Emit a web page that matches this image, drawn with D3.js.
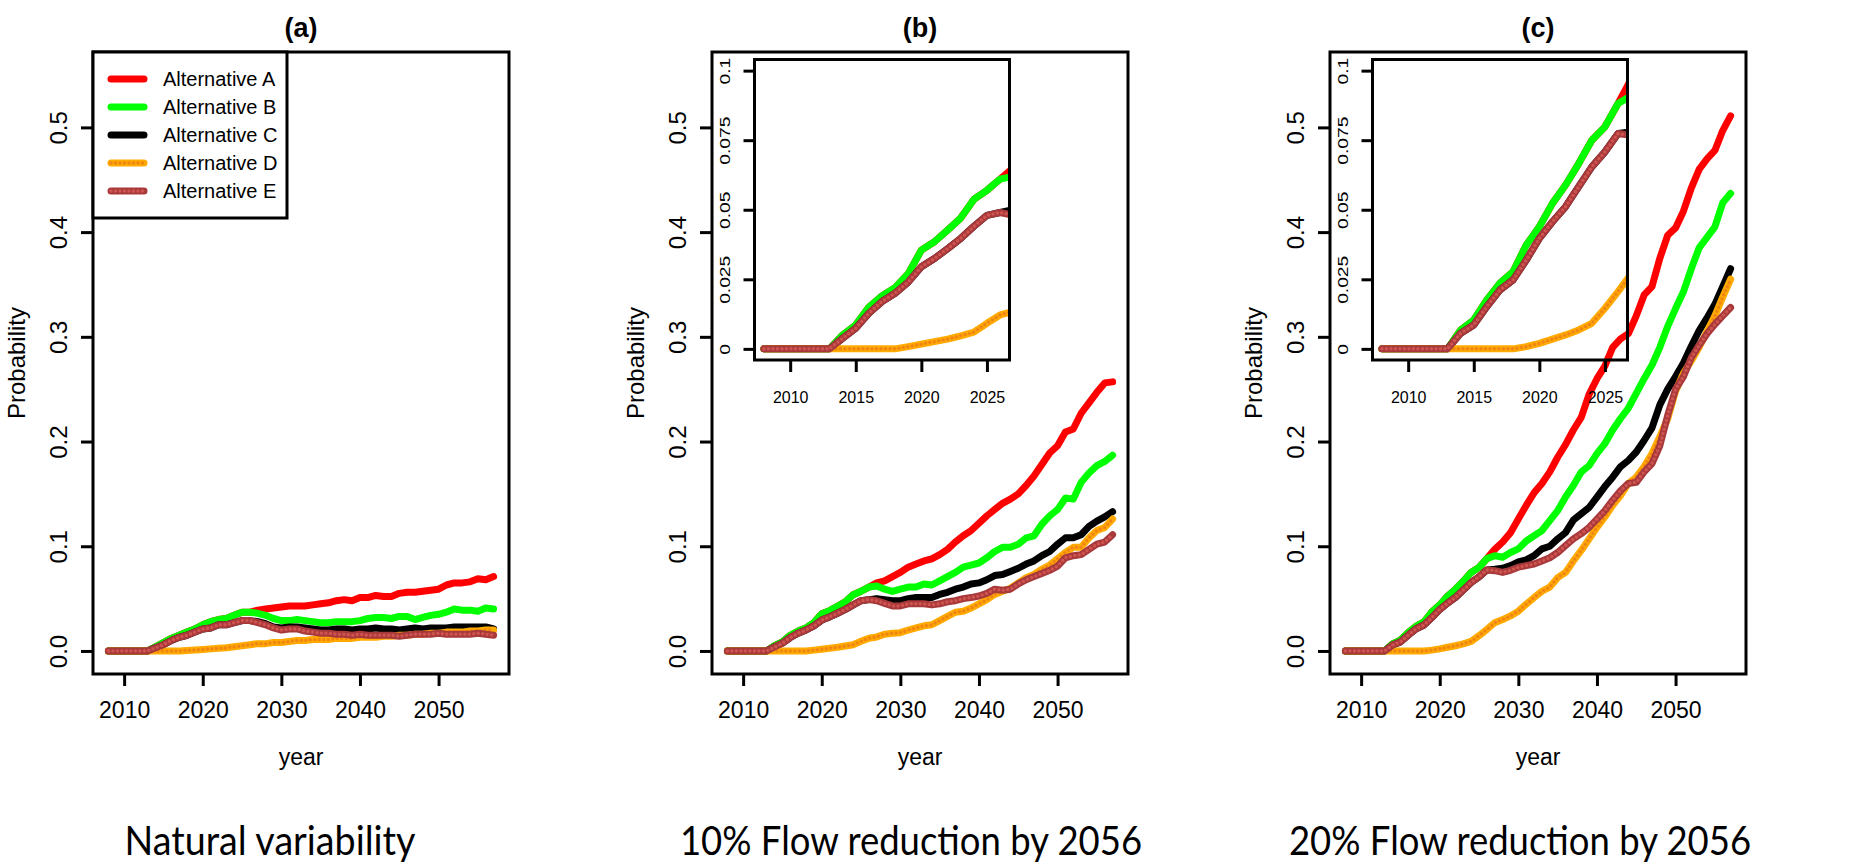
<!DOCTYPE html>
<html>
<head>
<meta charset="utf-8">
<script src="https://d3js.org/d3.v7.min.js"></script>
<style>
body { margin: 0; background: #fff; }
svg text { font-family: "Liberation Sans", Arial, Helvetica, sans-serif; fill: #000; }
</style>
</head>
<body>
<svg id="chart" width="1854" height="864"></svg>
<script>
// years 2008..2057, one value per year
const years = d3.range(2008, 2058);

const seriesNames = ["Alternative A", "Alternative B", "Alternative C", "Alternative D", "Alternative E"];

// (a) natural variability
const natA = [0,0,0,0,0,0, 0.004,0.008,0.012,0.015,0.018,0.021,0.025,0.028,0.030,0.031,0.034,0.037,0.037,
  0.039,0.040,0.041,0.042,0.043,0.043,0.043,0.044,0.045,0.046,0.048,0.049,0.048,0.051,0.051,0.053,0.052,0.052,
  0.055,0.056,0.056,0.057,0.058,0.059,0.063,0.065,0.065,0.066,0.069,0.068,0.071];
const natB = [0,0,0,0,0,0, 0.004,0.008,0.012,0.015,0.018,0.021,0.025,0.028,0.030,0.031,0.034,0.037,0.037,
  0.036,0.034,0.031,0.029,0.029,0.030,0.029,0.028,0.027,0.027,0.028,0.028,0.028,0.029,0.031,0.032,0.032,0.031,
  0.033,0.033,0.030,0.032,0.034,0.035,0.037,0.040,0.039,0.039,0.038,0.041,0.040];
const natC = [0,0,0,0,0,0, 0.003,0.006,0.010,0.013,0.015,0.018,0.021,0.022,0.025,0.025,0.027,0.029,0.029,
  0.028,0.026,0.023,0.022,0.023,0.023,0.022,0.021,0.020,0.020,0.021,0.021,0.020,0.021,0.021,0.022,0.021,0.021,
  0.020,0.021,0.022,0.021,0.022,0.022,0.022,0.023,0.023,0.023,0.023,0.023,0.021];
const natD = [0,0,0,0,0,0,0,0,0,0, 0.0005,0.001,0.0015,0.002,0.0025,0.003,0.004,0.005,0.006,
  0.007,0.007,0.008,0.008,0.009,0.010,0.010,0.011,0.011,0.011,0.012,0.012,0.012,0.013,0.013,0.013,0.014,0.014,
  0.015,0.015,0.016,0.016,0.017,0.017,0.018,0.018,0.018,0.019,0.019,0.020,0.020];
const natE = [0,0,0,0,0,0, 0.003,0.006,0.010,0.013,0.015,0.018,0.021,0.022,0.025,0.025,0.027,0.029,0.029,
  0.027,0.025,0.022,0.020,0.021,0.021,0.019,0.018,0.017,0.017,0.016,0.016,0.015,0.016,0.015,0.015,0.015,0.015,
  0.014,0.015,0.016,0.016,0.016,0.017,0.016,0.016,0.016,0.016,0.017,0.016,0.015];

// (b) 10% flow reduction by 2056
const flow10A = [0,0,0,0,0,0, 0.005,0.0086,0.015,0.019,0.022,0.027,0.0355,0.0385,0.0427,0.047,0.0537,0.057,0.061,
  0.065,0.067,0.071,0.075,0.080,0.083,0.086,0.088,0.092,0.097,0.104,0.110,0.115,0.122,0.129,0.135,0.141,0.145,
  0.150,0.158,0.167,0.178,0.189,0.196,0.209,0.212,0.227,0.237,0.247,0.256,0.257];
const flow10B = [0,0,0,0,0,0, 0.005,0.0086,0.015,0.019,0.022,0.027,0.0355,0.0385,0.0427,0.047,0.0537,0.057,0.061,
  0.062,0.059,0.057,0.059,0.061,0.061,0.064,0.063,0.067,0.071,0.075,0.080,0.082,0.084,0.089,0.095,0.099,0.099,
  0.102,0.108,0.110,0.121,0.129,0.135,0.146,0.145,0.161,0.170,0.177,0.181,0.187];
const flow10C = [0,0,0,0,0,0, 0.0038,0.0074,0.0128,0.017,0.020,0.024,0.0295,0.0325,0.036,0.0397,0.044,0.048,0.049,
  0.050,0.049,0.048,0.048,0.050,0.051,0.051,0.051,0.054,0.056,0.059,0.061,0.064,0.065,0.068,0.072,0.073,0.076,
  0.079,0.083,0.086,0.091,0.095,0.102,0.108,0.108,0.111,0.119,0.124,0.128,0.133];
const flow10D = [0,0,0,0,0,0,0,0,0,0,0, 0.0008,0.0017,0.0026,0.0035,0.0047,0.006,0.0092,0.0122,
  0.0134,0.016,0.017,0.0175,0.020,0.022,0.024,0.025,0.029,0.033,0.037,0.038,0.041,0.045,0.049,0.054,0.057,0.060,
  0.065,0.070,0.073,0.078,0.082,0.088,0.094,0.099,0.099,0.108,0.115,0.118,0.126];
const flow10E = [0,0,0,0,0,0, 0.0038,0.0074,0.0128,0.017,0.020,0.024,0.0295,0.0325,0.036,0.0397,0.044,0.048,0.049,
  0.048,0.0455,0.043,0.043,0.045,0.045,0.045,0.044,0.045,0.047,0.048,0.050,0.051,0.0525,0.055,0.059,0.058,0.059,
  0.064,0.068,0.071,0.074,0.077,0.081,0.089,0.091,0.092,0.097,0.102,0.104,0.111];

// (c) 20% flow reduction by 2056
const flow20A = [0,0,0,0,0,0, 0.0068,0.0104,0.0176,0.0236,0.0278,0.0373,0.0439,0.0523,0.0589,0.0666,0.075,0.0798,0.0882,
  0.097,0.104,0.113,0.126,0.139,0.151,0.160,0.171,0.185,0.197,0.211,0.223,0.245,0.260,0.272,0.290,0.298,0.303,
  0.320,0.340,0.348,0.375,0.397,0.404,0.420,0.442,0.460,0.470,0.478,0.497,0.511];
const flow20B = [0,0,0,0,0,0, 0.0068,0.0104,0.0176,0.0236,0.0278,0.0373,0.0439,0.0523,0.0589,0.0666,0.075,0.0798,0.0882,
  0.091,0.0895,0.094,0.0975,0.105,0.110,0.115,0.1245,0.134,0.147,0.158,0.171,0.177,0.1885,0.198,0.211,0.222,0.232,
  0.246,0.260,0.273,0.290,0.310,0.327,0.343,0.365,0.385,0.395,0.405,0.428,0.437];
const flow20C = [0,0,0,0,0,0, 0.0056,0.0086,0.0152,0.0212,0.0248,0.0319,0.0397,0.0457,0.0511,0.0583,0.0654,0.0708,0.0774,
  0.078,0.079,0.0815,0.085,0.087,0.091,0.0975,0.100,0.107,0.113,0.125,0.131,0.137,0.147,0.157,0.166,0.176,0.182,
  0.190,0.201,0.213,0.235,0.250,0.262,0.275,0.291,0.306,0.318,0.331,0.348,0.365];
const flow20D = [0,0,0,0,0,0,0,0,0,0,0, 0.0008,0.002,0.0035,0.005,0.0068,0.0092,0.0146,0.0206,
  0.027,0.030,0.0335,0.038,0.0447,0.051,0.057,0.061,0.070,0.075,0.086,0.096,0.107,0.118,0.128,0.139,0.1485,0.160,
  0.166,0.176,0.1885,0.2045,0.222,0.248,0.265,0.277,0.290,0.305,0.320,0.338,0.355];
const flow20E = [0,0,0,0,0,0, 0.0056,0.0086,0.0152,0.0212,0.0248,0.0319,0.0397,0.0457,0.0511,0.0583,0.0654,0.0708,0.0774,
  0.0767,0.075,0.077,0.080,0.0815,0.083,0.086,0.089,0.094,0.1006,0.107,0.112,0.118,0.126,0.134,0.144,0.153,0.160,
  0.161,0.171,0.179,0.196,0.225,0.250,0.262,0.280,0.292,0.303,0.312,0.320,0.328];

const xTicks = [2010, 2020, 2030, 2040, 2050];
const yTicks = [0, 0.1, 0.2, 0.3, 0.4, 0.5];
const insetXTicks = [2010, 2015, 2020, 2025];
const insetYTicks = [0, 0.025, 0.05, 0.075, 0.1];

const titles = ["(a)", "(b)", "(c)"];
const captions = ["Natural variability", "10% Flow reduction by 2056", "20% Flow reduction by 2056"];

// styling
const baseColors = ["#ff0000", "#00ff00", "#000000", "#ffaa00", "#a8393b"];
const dotColors  = [null, null, null, "#f08414", "#cf5450"];

const panels = [
  {data: [natA, natB, natC, natD, natE], inset: false, legend: true},
  {data: [flow10A, flow10B, flow10C, flow10D, flow10E], inset: true, legend: false},
  {data: [flow20A, flow20B, flow20C, flow20D, flow20E], inset: true, legend: false}
];

const svg = d3.select("#chart");
const panelLeft = [93, 712, 1330];
const pw = 416, plotTop = 52, plotBottom = 674;
const lw = 7;

function drawSeries(g, x, y, data) {
  data.forEach(function(vals, i) {
    const line = d3.line()
      .x(function(d, j) { return x(years[j]); })
      .y(function(d) { return y(d); });
    g.append("path")
      .attr("d", line(vals))
      .attr("fill", "none")
      .attr("stroke", baseColors[i])
      .attr("stroke-width", lw)
      .attr("stroke-linejoin", "round")
      .attr("stroke-linecap", "round");
    if (dotColors[i]) {
      g.append("path")
        .attr("d", line(vals))
        .attr("fill", "none")
        .attr("stroke", dotColors[i])
        .attr("stroke-width", 3.5)
        .attr("stroke-dasharray", "0,4.5")
        .attr("stroke-linecap", "round");
    }
  });
}

function styleAxis(g, fs) {
  g.select(".domain").remove();
  g.selectAll(".tick line").attr("stroke", "#000").attr("stroke-width", 3);
  g.selectAll(".tick text").attr("font-size", fs).attr("font-family", null);
}

panels.forEach(function(p, k) {
  const L = panelLeft[k];
  const g = svg.append("g");

  const x = d3.scaleLinear().domain([2008 - 0.04 * 49, 2057 + 0.04 * 49]).range([L, L + pw]);
  const y = d3.scaleLinear().domain([-0.022, 0.572]).range([plotBottom, plotTop]);

  drawSeries(g, x, y, p.data);

  // axes
  const xa = g.append("g").attr("transform", "translate(0," + plotBottom + ")")
    .call(d3.axisBottom(x).tickValues(xTicks).tickFormat(d3.format("d")).tickSize(12).tickPadding(16));
  styleAxis(xa, 23);

  const ya = g.append("g").attr("transform", "translate(" + L + ",0)")
    .call(d3.axisLeft(y).tickValues(yTicks).tickFormat(d3.format(".1f")).tickSize(12));
  styleAxis(ya, 24);
  ya.selectAll(".tick text")
    .attr("x", 0).attr("dy", 0)
    .attr("text-anchor", "middle")
    .attr("transform", "translate(-26.4,0) rotate(-90)");

  g.append("rect")
    .attr("x", L).attr("y", plotTop).attr("width", pw).attr("height", plotBottom - plotTop)
    .attr("fill", "none").attr("stroke", "#000").attr("stroke-width", 3);

  // labels
  g.append("text").attr("x", L + pw / 2).attr("y", 37)
    .attr("text-anchor", "middle").attr("font-weight", "bold").attr("font-size", 27)
    .text(titles[k]);
  g.append("text").attr("x", L + pw / 2).attr("y", 765)
    .attr("text-anchor", "middle").attr("font-size", 23).text("year");
  g.append("text")
    .attr("transform", "translate(" + (L - 68) + "," + ((plotTop + plotBottom) / 2) + ") rotate(-90)")
    .attr("text-anchor", "middle").attr("font-size", 24).text("Probability");

  // inset
  if (p.inset) {
    const iL = L + 42.5, iW = 255, iT = 59.5, iB = 360;
    const ix = d3.scaleLinear().domain([2008 - 0.72, 2026 + 0.72]).range([iL, iL + iW]);
    const iy = d3.scaleLinear().domain([-0.004, 0.104]).range([iB, iT]);
    const clipId = "clip" + k;
    svg.append("clipPath").attr("id", clipId)
      .append("rect").attr("x", iL).attr("y", iT).attr("width", iW).attr("height", iB - iT);
    const ig = g.append("g").attr("clip-path", "url(#" + clipId + ")");
    drawSeries(ig, ix, iy, p.data);

    const ixa = g.append("g").attr("transform", "translate(0," + iB + ")")
      .call(d3.axisBottom(ix).tickValues(insetXTicks).tickFormat(d3.format("d")).tickSize(12).tickPadding(20));
    styleAxis(ixa, 16);
    const iya = g.append("g").attr("transform", "translate(" + iL + ",0)")
      .call(d3.axisLeft(iy).tickValues(insetYTicks).tickFormat(function(d) { return String(d); }).tickSize(11));
    styleAxis(iya, 16);
    iya.selectAll(".tick text")
      .attr("x", 0).attr("dy", 0)
      .attr("text-anchor", "middle")
      .attr("transform", "translate(-24.8,0) rotate(-90) scale(1.2,0.9)");

    g.append("rect")
      .attr("x", iL).attr("y", iT).attr("width", iW).attr("height", iB - iT)
      .attr("fill", "none").attr("stroke", "#000").attr("stroke-width", 3);
  }

  // legend
  if (p.legend) {
    const lg = g.append("g");
    lg.append("rect").attr("x", L).attr("y", plotTop).attr("width", 194).attr("height", 166)
      .attr("fill", "#fff").attr("stroke", "#000").attr("stroke-width", 3);
    seriesNames.forEach(function(name, i) {
      const ry = 79 + i * 28;
      lg.append("line").attr("x1", L + 18).attr("x2", L + 51).attr("y1", ry).attr("y2", ry)
        .attr("stroke", baseColors[i]).attr("stroke-width", lw).attr("stroke-linecap", "round");
      if (dotColors[i]) {
        lg.append("line").attr("x1", L + 18).attr("x2", L + 51).attr("y1", ry).attr("y2", ry)
          .attr("stroke", dotColors[i]).attr("stroke-width", 3.5)
          .attr("stroke-dasharray", "0,4.5").attr("stroke-linecap", "round");
      }
      lg.append("text").attr("x", L + 70).attr("y", ry).attr("dy", "0.36em")
        .attr("font-size", 20).text(name);
    });
  }
});

// bottom captions, sized to the measured width of the originals
const capX = [270, 911, 1520];
const capW = [291, 462, 462];
captions.forEach(function(c, k) {
  const t = svg.append("text")
    .attr("transform", "translate(" + capX[k] + ",855) scale(1,1.1)")
    .attr("text-anchor", "middle")
    .style("font-family", "Lato, 'Open Sans', sans-serif")
    .attr("font-size", 40)
    .text(c);
  const len = t.node().getComputedTextLength();
  t.attr("font-size", 40 * capW[k] / len);
});
</script>
</body>
</html>
